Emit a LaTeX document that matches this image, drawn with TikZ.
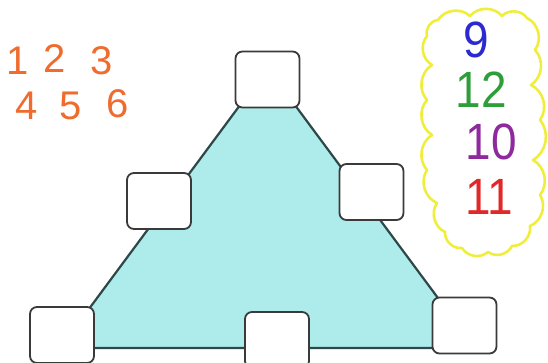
\documentclass[tikz,border=0pt]{standalone}
\usepackage{fontspec}
\setmainfont{Liberation Sans}
\setsansfont{Liberation Sans}
\usetikzlibrary{backgrounds}
\definecolor{tricyan}{HTML}{AEEBEB}
\definecolor{edgegray}{HTML}{2E4848}
\definecolor{boxgray}{HTML}{3A3A3A}
\definecolor{digitorange}{HTML}{EF6B2E}
\definecolor{cloudyellow}{HTML}{F0EE3C}
\definecolor{penblue}{HTML}{2A2AD0}
\definecolor{pengreen}{HTML}{2E9E3A}
\definecolor{penpurple}{HTML}{8E2A9E}
\definecolor{penred}{HTML}{E0282A}

\begin{document}
\begin{tikzpicture}[
    x=1pt, y=-1pt,
    every node/.style={font=\sffamily},
    slot/.style={
        draw=boxgray, fill=white, rounded corners=7pt, line width=1.8pt,
        minimum width=64pt, minimum height=56pt, inner sep=0pt
    },
    given/.style={text=digitorange, font=\fontsize{40}{40}\selectfont, inner sep=0pt},
    pen/.style={font=\fontsize{51}{51}\selectfont, inner sep=0pt, xscale=0.9},
    puff/.style={bend left=50},
    cloudline/.style={draw=cloudyellow, line width=2.6pt, line join=round, line cap=round},
]
\useasboundingbox (0,0) rectangle (548,363);

% === Digits to place ===
\node[given] (d1) at (18,61)  {1};
\node[given] (d2) at (55,59)  {2};
\node[given] (d3) at (102,61) {3};
\node[given] (d4) at (27,106) {4};
\node[given] (d5) at (71,106) {5};
\node[given] (d6) at (118,104) {6};

% === Slots ===
\node[slot] (top)      at (267.5,79.5) {};
\node[slot] (midleft)  at (159,201)    {};
\node[slot] (midright) at (371.5,192)  {};
\node[slot] (botleft)  at (62,335)     {};
\node[slot] (botmid)   at (277,340)    {};
\node[slot] (botright) at (464.5,325.5) {};

% === Triangle ===
\coordinate (apex)  at (267.5,68);
\coordinate (baseL) at (60,348);
\coordinate (baseR) at (475,348);
\begin{scope}[on background layer]
\filldraw[fill=tricyan, draw=edgegray, line width=2.2pt, line join=round]
    (apex) -- (baseR) -- (baseL) -- cycle;
\end{scope}

% === Side sums ===
\draw[cloudline]
    (438,20) to[puff] (470,16) to[puff] (502,16) to[puff] (527,18)
    to[puff] (535,50) to[puff] (531,85) to[puff] (540,120) to[puff] (533,160)
    to[puff] (540,195) to[puff] (530,226)
    to[puff] (512,246) to[puff] (488,252) to[puff] (462,248) to[puff] (445,232)
    to[puff] (437,203) to[puff] (427,170) to[puff] (432,135) to[puff] (427,100)
    to[puff] (432,65) to[puff] (427,36) to[puff] (438,20);
\node[pen, text=penblue]   (s9)  at (476,40)  {9};
\node[pen, text=pengreen]  (s12) at (481,90)  {12};
\node[pen, text=penpurple] (s10) at (491,142) {10};
\node[pen, text=penred]    (s11) at (489,197) {11};

\end{tikzpicture}
\end{document}
